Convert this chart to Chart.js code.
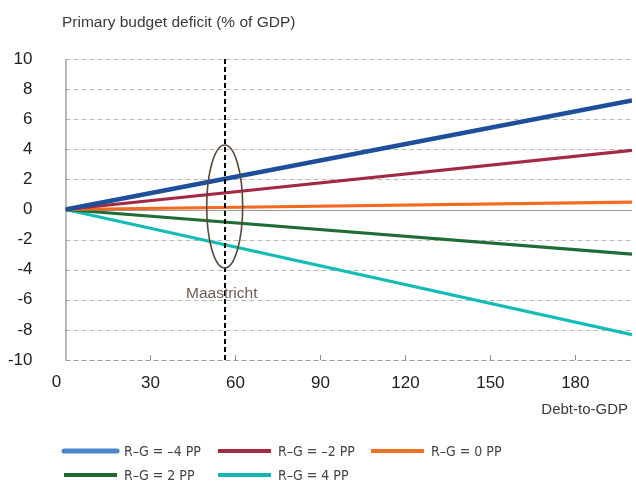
<!DOCTYPE html>
<html>
<head>
<meta charset="utf-8">
<script src="https://cdn.jsdelivr.net/npm/chart.js@4"></script>
<style>
  html, body { margin: 0; padding: 0; background: #fff; }
  #wrap { width: 636px; height: 483px; }
</style>
</head>
<body>
<div id="wrap"><canvas id="c" width="636" height="483"></canvas></div>
<script>
// ---- data ----
const debtX = [0, 200];
const seriesLabels = ['R\u2013G = \u20134 PP', 'R\u2013G = \u20132 PP', 'R\u2013G = 0 PP', 'R\u2013G = 2 PP', 'R\u2013G = 4 PP'];
const rgMinus4 = [0, 7.25];
const rgMinus2 = [0, 3.93];
const rgZero   = [0, 0.49];
const rgPlus2  = [0, -2.96];
const rgPlus4  = [0, -8.31];
const maastrichtX = 56.3;
const yTicks = [-10, -8, -6, -4, -2, 0, 2, 4, 6, 8, 10];
const xTicks = [0, 30, 60, 90, 120, 150, 180];

const seriesValues = [rgMinus4, rgMinus2, rgZero, rgPlus2, rgPlus4];
const lineColors = ['#1d4f9b', '#a32a45', '#f26b21', '#1f6d34', '#15bcb6'];
const legendColors = ['#4d86c6', '#a22d41', '#f07026', '#1e6b30', '#12b7b1'];
const lineWidths = [4.5, 3.2, 3.2, 3.2, 3.2];

const FONT = "'Liberation Sans', Arial, sans-serif";
Chart.defaults.font.family = FONT;

const datasets = [{
  label: 'Maastricht',
  data: [{x: maastrichtX, y: -10}, {x: maastrichtX, y: 10}],
  borderColor: '#000',
  borderWidth: 2,
  borderDash: [5, 3],
  pointRadius: 0,
  order: -1
}];
seriesValues.forEach((vals, i) => {
  datasets.push({
    label: seriesLabels[i],
    data: vals.map((v, j) => ({x: debtX[j], y: v})),
    borderColor: lineColors[i],
    borderWidth: lineWidths[i],
    pointRadius: 0,
    order: i
  });
});

const decor = {
  id: 'decor',
  beforeDatasetsDraw(chart) {
    const ctx = chart.ctx, xs = chart.scales.x, ys = chart.scales.y;
    const L = chart.chartArea.left, R = chart.chartArea.right;
    ctx.save();
    // horizontal grid lines
    yTicks.forEach(v => {
      const py = Math.round(ys.getPixelForValue(v)) + 0.5;
      ctx.beginPath();
      ctx.lineWidth = 1;
      if (v === 0) { ctx.setLineDash([]); ctx.strokeStyle = '#9a9a9a'; }
      else { ctx.setLineDash([5, 3]); ctx.strokeStyle = v === -10 ? '#9a9a9a' : '#b8b8b8'; }
      ctx.moveTo(L, py); ctx.lineTo(R, py); ctx.stroke();
    });
    ctx.setLineDash([]);
    // y axis line
    ctx.strokeStyle = '#8c8c8c';
    ctx.lineWidth = 1.2;
    ctx.beginPath();
    ctx.moveTo(L + 0.5, ys.getPixelForValue(10));
    ctx.lineTo(L + 0.5, ys.getPixelForValue(-10));
    ctx.stroke();
    // inner x ticks
    const by = ys.getPixelForValue(-10);
    ctx.lineWidth = 1;
    xTicks.forEach(v => {
      if (v === 0) return;
      const px = Math.round(xs.getPixelForValue(v)) + 0.5;
      ctx.beginPath(); ctx.moveTo(px, by); ctx.lineTo(px, by - 5); ctx.stroke();
    });
    ctx.restore();
  },
  afterDatasetsDraw(chart) {
    const ctx = chart.ctx, xs = chart.scales.x, ys = chart.scales.y;
    ctx.save();
    // ellipse around Maastricht point
    const cx = xs.getPixelForValue(56.2), cy = ys.getPixelForValue(0.2);
    const rx = Math.abs(xs.getPixelForValue(56.2 + 6.35) - cx);
    const ry = Math.abs(ys.getPixelForValue(0.2 + 4.09) - cy);
    ctx.strokeStyle = '#5b4638';
    ctx.lineWidth = 1.6;
    ctx.beginPath(); ctx.ellipse(cx, cy, rx, ry, 0, 0, Math.PI * 2); ctx.stroke();
    // Maastricht label
    ctx.fillStyle = '#6e5d53';
    ctx.font = '15.5px ' + FONT;
    ctx.textBaseline = 'middle';
    ctx.textAlign = 'left';
    ctx.fillText('Maastricht', 186, 294);
    // x "0" label, offset from axis
    ctx.fillStyle = '#1e1e1e';
    ctx.font = '17px ' + FONT;
    ctx.textAlign = 'center';
    ctx.fillText('0', xs.getPixelForValue(0) - 9, 382);
    // axis titles
    ctx.fillStyle = '#3a3a3a';
    ctx.font = '15.5px ' + FONT;
    ctx.textAlign = 'left';
    ctx.fillText('Primary budget deficit (% of GDP)', 62, 23);
    ctx.font = '15px ' + FONT;
    ctx.textAlign = 'right';
    ctx.fillText('Debt-to-GDP', 628, 410);
    // legend
    const cols = [64, 218, 371];
    const rows = [451, 475];
    ctx.font = "14px 'Liberation Sans Narrow', 'DejaVu Sans Condensed', Arial, sans-serif";
    ctx.textAlign = 'left';
    seriesLabels.forEach((lab, i) => {
      const lx = cols[i % 3], ly = rows[Math.floor(i / 3)];
      ctx.strokeStyle = legendColors[i];
      ctx.lineWidth = i === 0 ? 5 : 4;
      ctx.lineCap = i === 0 ? 'round' : 'butt';
      ctx.beginPath(); ctx.moveTo(lx, ly); ctx.lineTo(lx + 53, ly); ctx.stroke();
      ctx.fillStyle = '#444';
      ctx.fillText(lab, lx + 60, ly + 1);
    });
    ctx.restore();
  }
};

new Chart(document.getElementById('c'), {
  type: 'line',
  data: { datasets },
  options: {
    responsive: false,
    animation: false,
    layout: { padding: { top: 59, right: 4, left: 0, bottom: 0 } },
    plugins: { legend: { display: false }, tooltip: { enabled: false } },
    scales: {
      x: {
        type: 'linear',
        min: 0, max: 200,
        afterBuildTicks: s => { s.ticks = xTicks.map(v => ({value: v})); },
        afterFit: s => { s.height = 123; },
        grid: { display: false, drawTicks: false },
        border: { display: false },
        ticks: {
          padding: 13,
          color: '#1e1e1e',
          font: { size: 17 },
          maxRotation: 0,
          autoSkip: false,
          callback: v => v === 0 ? '' : String(v)
        }
      },
      y: {
        min: -10, max: 10,
        afterBuildTicks: s => { s.ticks = yTicks.map(v => ({value: v})); },
        afterFit: s => { s.width = 65.5; },
        grid: { display: false, drawTicks: false },
        border: { display: false },
        ticks: {
          padding: 33,
          color: '#1e1e1e',
          font: { size: 17 },
          autoSkip: false
        }
      }
    }
  },
  plugins: [decor]
});
</script>
</body>
</html>
